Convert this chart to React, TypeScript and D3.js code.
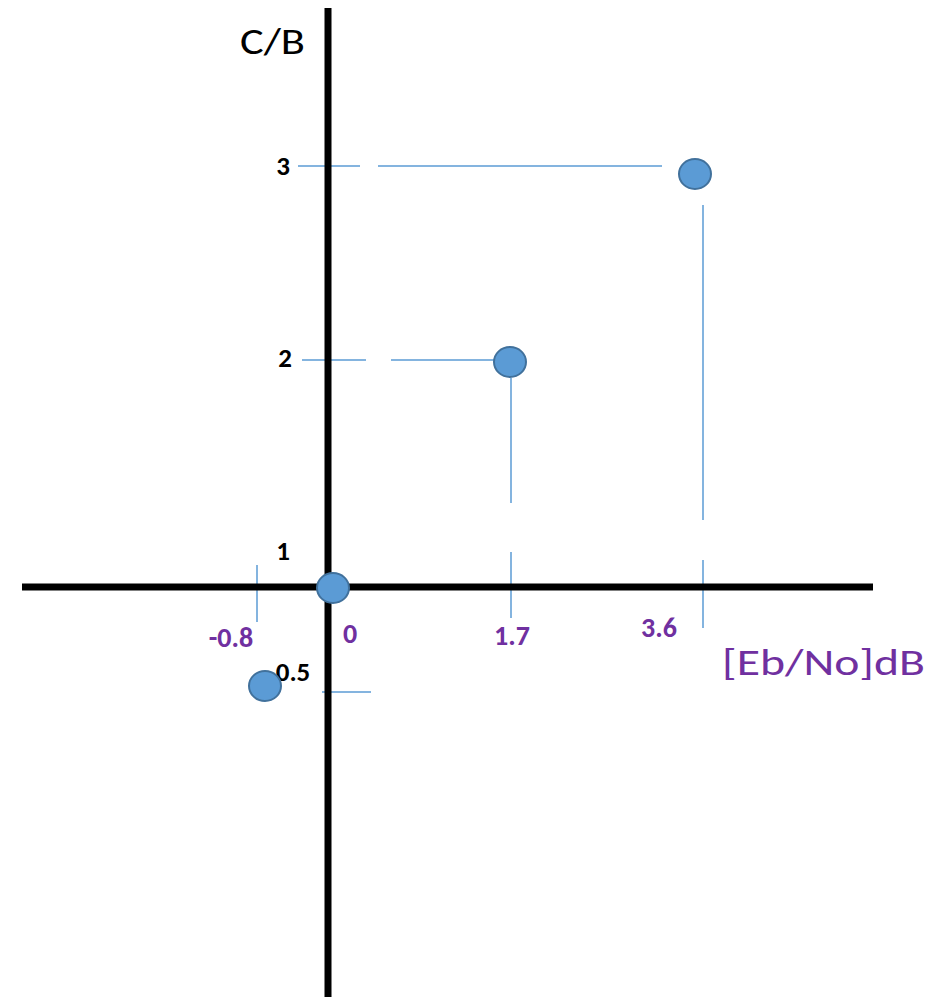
import React from "react";
import * as d3 from "d3";

const xTicks = [-0.8, 0, 1.7, 3.6];
const xTickLabels = ["-0.8", "0", "1.7", "3.6"];
const yTicks = [0.5, 1, 2, 3];
const yTickLabels = ["0.5", "1", "2", "3"];
const pointsX = [-0.8, 0, 1.7, 3.6];
const pointsY = [0.5, 1, 2, 3];

const BLUE = "#5B9BD5";
const PURPLE = "#7030A0";
const FONT = "Carlito, Lato, 'Open Sans', sans-serif";

export default function App() {
  const W = 932, H = 997;
  const axisX = 328, axisY = 587;
  // hand-drawn, non-uniform axes -> polylinear scales
  const x = d3.scaleLinear().domain(xTicks).range([257, 333, 511, 703]);
  const y = d3.scaleLinear().domain(yTicks).range([692, 588, 360, 166]);

  const hGuides = [
    { v: 3, segs: [[-30, 32], [50, 334]] },
    { v: 2, segs: [[-26, 38], [63, 169]] },
    { v: 0.5, segs: [[-6, 43]] },
  ];
  const vGuides = [
    { v: -0.8, segs: [[-22, 35]] },
    { v: 1.7, segs: [[-35, 31], [-209, -84]] },
    { v: 3.6, segs: [[-27, 41], [-382, -67]] },
  ];
  const xLabelDx = [-26, 17, 1, -44];
  const xLabelY = [647, 643, 645, 637];
  const yLabelX = [293, 283, 285, 283];
  const yLabelDy = [-11, -28, 7, 9];
  const ptDx = [8, 0, -1, -8];
  const ptDy = [-6, 0, 2, 8];

  return (
    <svg width={W} height={H} style={{ position: "absolute", left: 0, top: 0, background: "#fff" }}>
      <rect width={W} height={H} fill="#fff" />
      {hGuides.map((g, i) =>
        g.segs.map((s, j) => (
          <line key={`h${i}-${j}`} x1={axisX + s[0]} x2={axisX + s[1]} y1={y(g.v)} y2={y(g.v)} stroke={BLUE} strokeWidth={1.5} />
        ))
      )}
      {vGuides.map((g, i) =>
        g.segs.map((s, j) => (
          <line key={`v${i}-${j}`} x1={x(g.v)} x2={x(g.v)} y1={axisY + s[0]} y2={axisY + s[1]} stroke={BLUE} strokeWidth={1.5} />
        ))
      )}
      <line x1={axisX} x2={axisX} y1={8} y2={997} stroke="#000" strokeWidth={7} />
      <line x1={22} x2={873} y1={axisY} y2={axisY} stroke="#000" strokeWidth={7} />
      <text x={240} y={54} fontFamily={FONT} fontSize={37} fill="#000" textLength={65} lengthAdjust="spacingAndGlyphs">C/B</text>
      <text x={722} y={675} fontFamily={FONT} fontSize={37} fill={PURPLE} textLength={203} lengthAdjust="spacingAndGlyphs">[Eb/No]dB</text>
      {yTicks.map((t, i) => (
        <text key={`yl${i}`} x={yLabelX[i]} y={y(t) + yLabelDy[i]} textAnchor="middle" fontFamily={FONT} fontWeight="bold" fontSize={27} fill="#000">
          {yTickLabels[i]}
        </text>
      ))}
      {xTicks.map((t, i) => (
        <text key={`xl${i}`} x={x(t) + xLabelDx[i]} y={xLabelY[i]} textAnchor="middle" fontFamily={FONT} fontWeight="bold" fontSize={28} fill={PURPLE}>
          {xTickLabels[i]}
        </text>
      ))}
      {pointsX.map((px, i) => (
        <ellipse key={`p${i}`} cx={x(px) + ptDx[i]} cy={y(pointsY[i]) + ptDy[i]} rx={16} ry={15} fill={BLUE} stroke="#41719C" strokeWidth={2} />
      ))}
    </svg>
  );
}
